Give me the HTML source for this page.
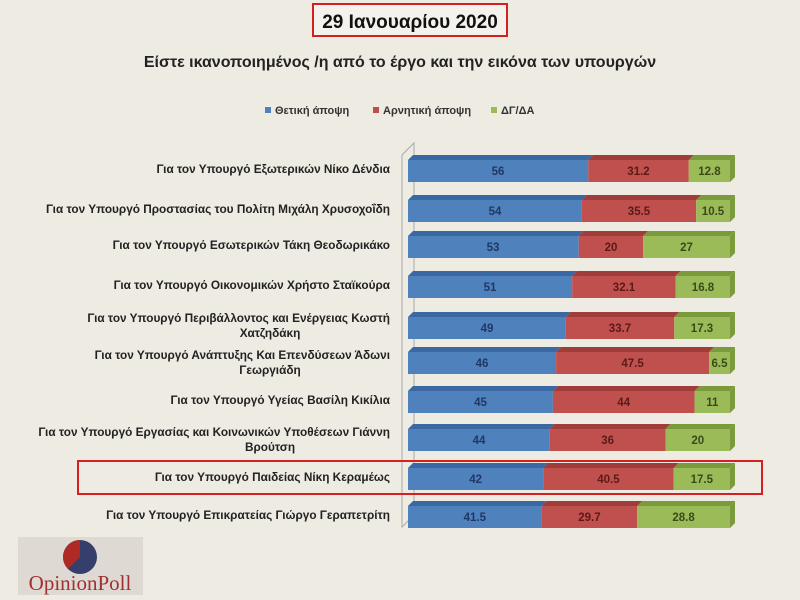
<!DOCTYPE html>
<html><head><meta charset="utf-8"><style>
html,body{margin:0;padding:0;background:#eeebe3}
svg{display:block}
text{font-family:"Liberation Sans Narrow","Liberation Sans",sans-serif;font-weight:bold}
.b1{fill:#4f81bd}.b1t{fill:#3a68a3}
.b2{fill:#c0504d}.b2t{fill:#a03c3a}
.b3{fill:#9bbb59}.b3t{fill:#7a9a3c}
.v{font-size:11.5px;text-anchor:middle}
.v1{fill:#1f3864}.v2{fill:#5a1a18}.v3{fill:#3a4a18}
</style></head><body>
<svg width="800" height="600" viewBox="0 0 800 600">
<rect width="800" height="600" fill="#eeebe3"/>
<rect x="313" y="4" width="194" height="32" fill="#f4f2ec" stroke="#d42020" stroke-width="2"/>
<text x="410" y="28" font-size="19" text-anchor="middle" fill="#111">29 Ιανουαρίου 2020</text>
<text x="400" y="67" font-size="16" text-anchor="middle" fill="#222">Είστε ικανοποιημένος /η από το έργο και την εικόνα των υπουργών</text>
<g font-size="11" fill="#333">
<rect x="265" y="107" width="6" height="6" fill="#4f81bd"/><text x="275" y="114">Θετική άποψη</text>
<rect x="373" y="107" width="6" height="6" fill="#c0504d"/><text x="383" y="114">Αρνητική άποψη</text>
<rect x="491" y="107" width="6" height="6" fill="#9bbb59"/><text x="501" y="114">ΔΓ/ΔΑ</text>
</g>
<path d="M402 155 L414 143 L414 515 L402 527 Z" fill="none" stroke="#aaa" stroke-width="1"/>

<g transform="translate(0,160)">
<polygon class="b1t" points="408,0 413,-5 593.3,-5 588.3,0"/><rect class="b1" x="408" y="0" width="180.3" height="22"/>
<polygon class="b2t" points="588.3,0 593.3,-5 693.8,-5 688.8,0"/><rect class="b2" x="588.3" y="0" width="100.5" height="22"/>
<polygon class="b3t" points="688.8,0 693.8,-5 735,-5 730,0"/><rect class="b3" x="688.8" y="0" width="41.2" height="22"/>
<polygon class="b3t" points="730,0 735,-5 735,17 730,22"/>
<text class="v v1" x="498" y="15">56</text><text class="v v2" x="638.5" y="15">31.2</text><text class="v v3" x="709.4" y="15">12.8</text>
</g>
<g transform="translate(0,200)">
<polygon class="b1t" points="408,0 413,-5 586.9,-5 581.9,0"/><rect class="b1" x="408" y="0" width="173.9" height="22"/>
<polygon class="b2t" points="581.9,0 586.9,-5 701.2,-5 696.2,0"/><rect class="b2" x="581.9" y="0" width="114.3" height="22"/>
<polygon class="b3t" points="696.2,0 701.2,-5 735,-5 730,0"/><rect class="b3" x="696.2" y="0" width="33.8" height="22"/>
<polygon class="b3t" points="730,0 735,-5 735,17 730,22"/>
<text class="v v1" x="495" y="15">54</text><text class="v v2" x="639" y="15">35.5</text><text class="v v3" x="713" y="15">10.5</text>
</g>
<g transform="translate(0,236)">
<polygon class="b1t" points="408,0 413,-5 583.7,-5 578.7,0"/><rect class="b1" x="408" y="0" width="170.7" height="22"/>
<polygon class="b2t" points="578.7,0 583.7,-5 648.1,-5 643.1,0"/><rect class="b2" x="578.7" y="0" width="64.4" height="22"/>
<polygon class="b3t" points="643.1,0 648.1,-5 735,-5 730,0"/><rect class="b3" x="643.1" y="0" width="86.9" height="22"/>
<polygon class="b3t" points="730,0 735,-5 735,17 730,22"/>
<text class="v v1" x="493" y="15">53</text><text class="v v2" x="611" y="15">20</text><text class="v v3" x="686.5" y="15">27</text>
</g>
<g transform="translate(0,276)">
<polygon class="b1t" points="408,0 413,-5 577.2,-5 572.2,0"/><rect class="b1" x="408" y="0" width="164.2" height="22"/>
<polygon class="b2t" points="572.2,0 577.2,-5 680.6,-5 675.6,0"/><rect class="b2" x="572.2" y="0" width="103.4" height="22"/>
<polygon class="b3t" points="675.6,0 680.6,-5 735,-5 730,0"/><rect class="b3" x="675.6" y="0" width="54.4" height="22"/>
<polygon class="b3t" points="730,0 735,-5 735,17 730,22"/>
<text class="v v1" x="490" y="15">51</text><text class="v v2" x="624" y="15">32.1</text><text class="v v3" x="703" y="15">16.8</text>
</g>
<g transform="translate(0,317)">
<polygon class="b1t" points="408,0 413,-5 570.8,-5 565.8,0"/><rect class="b1" x="408" y="0" width="157.8" height="22"/>
<polygon class="b2t" points="565.8,0 570.8,-5 679.3,-5 674.3,0"/><rect class="b2" x="565.8" y="0" width="108.5" height="22"/>
<polygon class="b3t" points="674.3,0 679.3,-5 735,-5 730,0"/><rect class="b3" x="674.3" y="0" width="55.7" height="22"/>
<polygon class="b3t" points="730,0 735,-5 735,17 730,22"/>
<text class="v v1" x="487" y="15">49</text><text class="v v2" x="620" y="15">33.7</text><text class="v v3" x="702" y="15">17.3</text>
</g>
<g transform="translate(0,352)">
<polygon class="b1t" points="408,0 413,-5 561.1,-5 556.1,0"/><rect class="b1" x="408" y="0" width="148.1" height="22"/>
<polygon class="b2t" points="556.1,0 561.1,-5 714.1,-5 709.1,0"/><rect class="b2" x="556.1" y="0" width="153" height="22"/>
<polygon class="b3t" points="709.1,0 714.1,-5 735,-5 730,0"/><rect class="b3" x="709.1" y="0" width="20.9" height="22"/>
<polygon class="b3t" points="730,0 735,-5 735,17 730,22"/>
<text class="v v1" x="482" y="15">46</text><text class="v v2" x="632.6" y="15">47.5</text><text class="v v3" x="719.5" y="15">6.5</text>
</g>
<g transform="translate(0,391)">
<polygon class="b1t" points="408,0 413,-5 557.9,-5 552.9,0"/><rect class="b1" x="408" y="0" width="144.9" height="22"/>
<polygon class="b2t" points="552.9,0 557.9,-5 699.6,-5 694.6,0"/><rect class="b2" x="552.9" y="0" width="141.7" height="22"/>
<polygon class="b3t" points="694.6,0 699.6,-5 735,-5 730,0"/><rect class="b3" x="694.6" y="0" width="35.4" height="22"/>
<polygon class="b3t" points="730,0 735,-5 735,17 730,22"/>
<text class="v v1" x="480.5" y="15">45</text><text class="v v2" x="623.7" y="15">44</text><text class="v v3" x="712.3" y="15">11</text>
</g>
<g transform="translate(0,429)">
<polygon class="b1t" points="408,0 413,-5 554.7,-5 549.7,0"/><rect class="b1" x="408" y="0" width="141.7" height="22"/>
<polygon class="b2t" points="549.7,0 554.7,-5 670.6,-5 665.6,0"/><rect class="b2" x="549.7" y="0" width="115.9" height="22"/>
<polygon class="b3t" points="665.6,0 670.6,-5 735,-5 730,0"/><rect class="b3" x="665.6" y="0" width="64.4" height="22"/>
<polygon class="b3t" points="730,0 735,-5 735,17 730,22"/>
<text class="v v1" x="479" y="15">44</text><text class="v v2" x="607.6" y="15">36</text><text class="v v3" x="697.8" y="15">20</text>
</g>
<g transform="translate(0,468)">
<polygon class="b1t" points="408,0 413,-5 548.2,-5 543.2,0"/><rect class="b1" x="408" y="0" width="135.2" height="22"/>
<polygon class="b2t" points="543.2,0 548.2,-5 678.6,-5 673.6,0"/><rect class="b2" x="543.2" y="0" width="130.4" height="22"/>
<polygon class="b3t" points="673.6,0 678.6,-5 735,-5 730,0"/><rect class="b3" x="673.6" y="0" width="56.4" height="22"/>
<polygon class="b3t" points="730,0 735,-5 735,17 730,22"/>
<text class="v v1" x="475.6" y="15">42</text><text class="v v2" x="608.4" y="15">40.5</text><text class="v v3" x="701.8" y="15">17.5</text>
</g>
<g transform="translate(0,506)">
<polygon class="b1t" points="408,0 413,-5 546.6,-5 541.6,0"/><rect class="b1" x="408" y="0" width="133.6" height="22"/>
<polygon class="b2t" points="541.6,0 546.6,-5 642.2,-5 637.2,0"/><rect class="b2" x="541.6" y="0" width="95.6" height="22"/>
<polygon class="b3t" points="637.2,0 642.2,-5 735,-5 730,0"/><rect class="b3" x="637.2" y="0" width="92.8" height="22"/>
<polygon class="b3t" points="730,0 735,-5 735,17 730,22"/>
<text class="v v1" x="474.8" y="15">41.5</text><text class="v v2" x="589.4" y="15">29.7</text><text class="v v3" x="683.6" y="15">28.8</text>
</g>

<rect x="78" y="461" width="684" height="33" fill="none" stroke="#d42020" stroke-width="2"/>
<g font-size="11.8" fill="#222" text-anchor="end">
<text x="390" y="173">Για τον Υπουργό Εξωτερικών Νίκο Δένδια</text>
<text x="390" y="213">Για τον Υπουργό Προστασίας του Πολίτη Μιχάλη Χρυσοχοΐδη</text>
<text x="390" y="249">Για τον Υπουργό Εσωτερικών Τάκη Θεοδωρικάκο</text>
<text x="390" y="289">Για τον Υπουργό Οικονομικών Χρήστο Σταϊκούρα</text>
<text x="390" y="322">Για τον Υπουργό  Περιβάλλοντος και Ενέργειας Κωστή</text>
<text x="270" y="337" text-anchor="middle">Χατζηδάκη</text>
<text x="390" y="359">Για τον Υπουργό Ανάπτυξης Και Επενδύσεων Άδωνι</text>
<text x="270" y="374" text-anchor="middle">Γεωργιάδη</text>
<text x="390" y="404">Για τον Υπουργό Υγείας Βασίλη Κικίλια</text>
<text x="390" y="436">Για τον Υπουργό Εργασίας και Κοινωνικών Υποθέσεων Γιάννη</text>
<text x="270" y="451" text-anchor="middle">Βρούτση</text>
<text x="390" y="481">Για τον Υπουργό Παιδείας Νίκη Κεραμέως</text>
<text x="390" y="519">Για τον Υπουργό Επικρατείας Γιώργο Γεραπετρίτη</text>
</g>
<rect x="18" y="537" width="125" height="58" fill="#dedad3"/>
<circle cx="80" cy="557" r="17" fill="#34406b"/>
<path d="M80 557 L80 540 A17 17 0 0 0 68 569 Z" fill="#b02a25"/>
<text x="80" y="590" font-size="21" text-anchor="middle" fill="#a03030" style="font-family:'Liberation Serif',serif;font-weight:normal">OpinionPoll</text>
</svg>
</body></html>
